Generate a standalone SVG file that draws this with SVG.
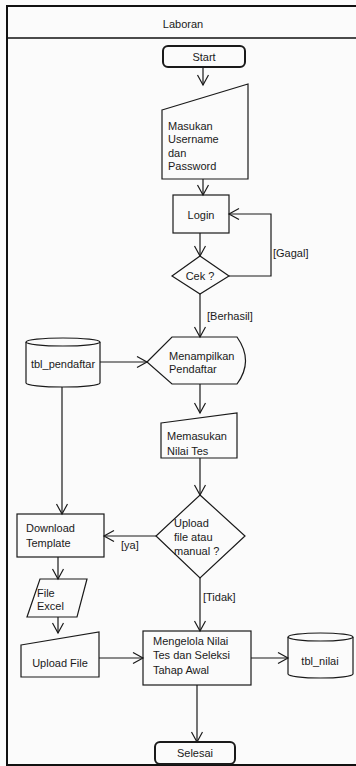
<svg xmlns="http://www.w3.org/2000/svg" width="356" height="766" viewBox="0 0 356 766">
<defs>
<style>
.s{fill:none;stroke:#1a1a1a;stroke-width:1.2}
.t{fill:#1a1a1a;font-family:"Liberation Sans",Arial,sans-serif;font-size:11px}
.m{text-anchor:middle}
.c{fill:none;stroke:#1a1a1a;stroke-width:1.2;marker-end:url(#a)}
</style>
<marker id="a" markerUnits="userSpaceOnUse" markerWidth="14" markerHeight="14" refX="11" refY="6" orient="auto">
<path d="M1,0.5 L11,6 L1,11.5" fill="none" stroke="#1a1a1a" stroke-width="1.2"/>
</marker>
</defs>
<rect width="356" height="766" fill="#fbfbfb"/>
<g id="lane">
<rect x="7" y="6" width="360" height="759" fill="none" stroke="#111" stroke-width="2"/>
<line x1="7" y1="38" x2="356" y2="38" stroke="#111" stroke-width="1.5"/>
<text class="t m" x="183" y="28">Laboran</text>
</g>
<g id="connectors">
<line class="c" x1="203" y1="67" x2="203" y2="85"/>
<line class="c" x1="203" y1="179" x2="203" y2="195"/>
<line class="c" x1="200" y1="233" x2="200" y2="256"/>
<polyline class="c" points="229,276 271,276 271,214 229,214"/>
<text class="t" x="273" y="257">[Gagal]</text>
<line class="c" x1="200" y1="294" x2="200" y2="337"/>
<text class="t" x="207" y="320">[Berhasil]</text>
<line class="c" x1="100" y1="362" x2="147" y2="362"/>
<line class="c" x1="200" y1="384" x2="200" y2="413"/>
<line class="c" x1="200" y1="458" x2="200" y2="495"/>
<line class="c" x1="156" y1="536" x2="104" y2="536"/>
<text class="t" x="121" y="549">[ya]</text>
<line class="c" x1="62" y1="387" x2="62" y2="514"/>
<line class="c" x1="58" y1="557" x2="58" y2="579"/>
<line class="c" x1="58" y1="617" x2="58" y2="633"/>
<line class="c" x1="99" y1="658" x2="143" y2="658"/>
<line class="c" x1="200" y1="578" x2="200" y2="631"/>
<text class="t" x="203" y="601">[Tidak]</text>
<line class="c" x1="251" y1="658" x2="288" y2="658"/>
<line class="c" x1="197" y1="685" x2="197" y2="742"/>
</g>
<g id="start">
<rect x="163" y="46" width="82" height="21" rx="5" fill="none" stroke="#1a1a1a" stroke-width="2"/>
<text class="t m" x="204" y="61">Start</text>
</g>
<g id="masukan">
<polygon class="s" points="162,110 248,84 248,179 162,179"/>
<text class="t" x="168" y="130">Masukan</text>
<text class="t" x="168" y="143">Username</text>
<text class="t" x="168" y="157">dan</text>
<text class="t" x="168" y="170">Password</text>
</g>
<g id="login">
<rect class="s" x="173" y="195" width="56" height="38"/>
<text class="t m" x="201" y="219">Login</text>
</g>
<g id="cek">
<polygon class="s" points="200,256 229,276 200,294 172,276"/>
<text class="t m" x="200" y="280">Cek ?</text>
</g>
<g id="menampilkan">
<path class="s" d="M147,362 L172,337 L237,337 Q254,361 237,384 L172,384 Z"/>
<text class="t" x="169" y="360">Menampilkan</text>
<text class="t" x="169" y="373">Pendaftar</text>
</g>
<g id="tbl_pendaftar">
<path class="s" d="M26,342 L26,383 A37,4 0 0 0 100,383 L100,342"/>
<ellipse class="s" cx="63" cy="342" rx="37" ry="4"/>
<text class="t m" x="63" y="368">tbl_pendaftar</text>
</g>
<g id="memasukan">
<polygon class="s" points="161,423 237,413 237,458 161,458"/>
<text class="t" x="167" y="440">Memasukan</text>
<text class="t" x="167" y="455">Nilai Tes</text>
</g>
<g id="upload_decision">
<polygon class="s" points="200,495 245,536 200,578 156,536"/>
<text class="t" x="174" y="527">Upload</text>
<text class="t" x="174" y="541">file atau</text>
<text class="t" x="174" y="555">manual ?</text>
</g>
<g id="download">
<rect class="s" x="17" y="514" width="87" height="43"/>
<text class="t" x="26" y="532">Download</text>
<text class="t" x="26" y="547">Template</text>
</g>
<g id="file_excel">
<polygon class="s" points="40,579 87,579 77,617 27,617"/>
<text class="t" x="37" y="597">File</text>
<text class="t" x="37" y="610">Excel</text>
</g>
<g id="upload_file">
<polygon class="s" points="21,645 99,632 99,677 21,677"/>
<text class="t m" x="60" y="667">Upload File</text>
</g>
<g id="mengelola">
<rect class="s" x="143" y="631" width="108" height="54"/>
<text class="t" x="153" y="645">Mengelola Nilai</text>
<text class="t" x="153" y="659">Tes dan Seleksi</text>
<text class="t" x="153" y="674">Tahap Awal</text>
</g>
<g id="tbl_nilai">
<path class="s" d="M288,637 L288,674 A32.5,4 0 0 0 353,674 L353,637"/>
<ellipse class="s" cx="320.5" cy="637" rx="32.5" ry="4"/>
<text class="t m" x="320" y="665">tbl_nilai</text>
</g>
<g id="selesai">
<rect x="155" y="742" width="80" height="22" rx="5" fill="none" stroke="#1a1a1a" stroke-width="2"/>
<text class="t m" x="195" y="757">Selesai</text>
</g>
</svg>
